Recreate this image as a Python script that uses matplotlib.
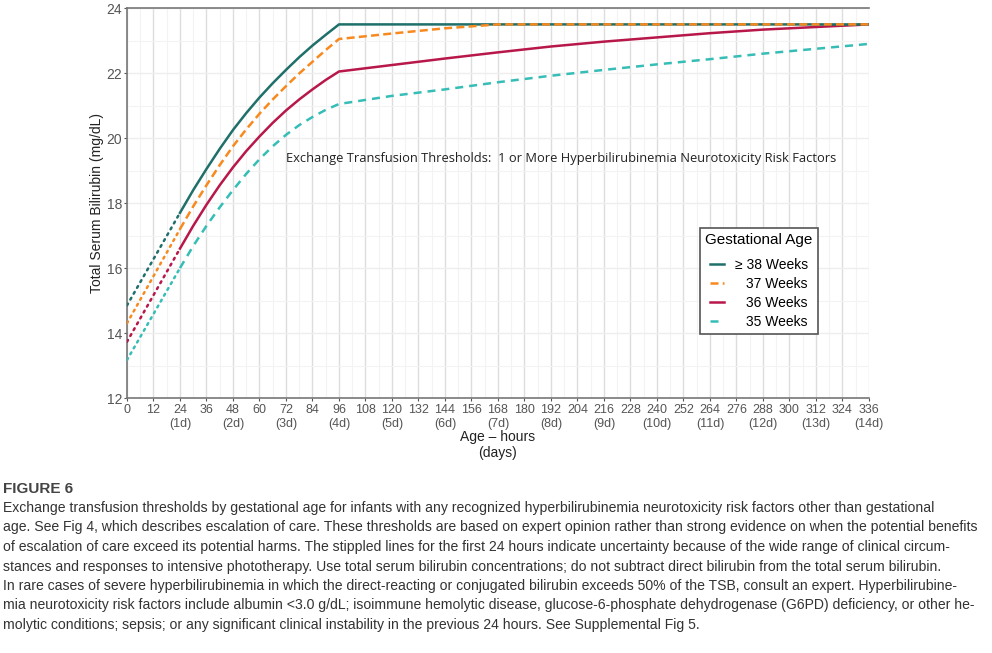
import numpy as np
import matplotlib
matplotlib.use('Agg')
from matplotlib import pyplot as plt

plt.rcParams['font.family'] = ['Liberation Sans', 'DejaVu Sans']

# data (hours, mg/dL)
hours_early = [0, 24]
hours = [24, 30, 36, 42, 48, 54, 60, 66, 72, 78, 84, 90, 96,
         120, 144, 168, 192, 216, 240, 264, 288, 312, 336]

ga38_early = [14.85, 17.7]
ga38 = [17.7, 18.4, 19.05, 19.67, 20.25, 20.77, 21.25, 21.69, 22.1, 22.49, 22.85, 23.18, 23.5,
        23.5, 23.5, 23.5, 23.5, 23.5, 23.5, 23.5, 23.5, 23.5, 23.5]
ga37_early = [14.3, 17.2]
ga37 = [17.2, 17.9, 18.55, 19.17, 19.75, 20.27, 20.75, 21.19, 21.6, 21.99, 22.35, 22.71, 23.05,
        23.22, 23.38, 23.5, 23.5, 23.5, 23.5, 23.5, 23.5, 23.5, 23.5]
ga36_early = [13.73, 16.6]
ga36 = [16.6, 17.3, 17.95, 18.55, 19.1, 19.6, 20.05, 20.47, 20.85, 21.19, 21.5, 21.79, 22.05,
        22.25, 22.45, 22.64, 22.82, 22.97, 23.1, 23.23, 23.34, 23.42, 23.5]
ga35_early = [13.17, 16.0]
ga35 = [16.0, 16.68, 17.3, 17.87, 18.4, 18.9, 19.35, 19.75, 20.1, 20.4, 20.65, 20.87, 21.05,
        21.3, 21.5, 21.72, 21.92, 22.1, 22.27, 22.43, 22.6, 22.75, 22.9]

labels = ['\u2265 38 Weeks', '\u2002 37 Weeks', '\u2002 36 Weeks', '\u2002 35 Weeks']
colors = ['#1f6f6a', '#f7891f', '#b8174a', '#35bdb6']
styles = ['-', (0, (3.2, 1.7)), '-', (0, (3.2, 2.4))]

x_ticks = list(range(0, 337, 12))
x_labels = [str(h) + ('\n(%dd)' % (h // 24) if h % 24 == 0 and h > 0 else '') for h in x_ticks]

caption_lines = [
    'Exchange transfusion thresholds by gestational age for infants with any recognized hyperbilirubinemia neurotoxicity risk factors other than gestational',
    'age. See Fig 4, which describes escalation of care. These thresholds are based on expert opinion rather than strong evidence on when the potential benefits',
    'of escalation of care exceed its potential harms. The stippled lines for the first 24 hours indicate uncertainty because of the wide range of clinical circum-',
    'stances and responses to intensive phototherapy. Use total serum bilirubin concentrations; do not subtract direct bilirubin from the total serum bilirubin.',
    'In rare cases of severe hyperbilirubinemia in which the direct-reacting or conjugated bilirubin exceeds 50% of the TSB, consult an expert. Hyperbilirubine-',
    'mia neurotoxicity risk factors include albumin <3.0 g/dL; isoimmune hemolytic disease, glucose-6-phosphate dehydrogenase (G6PD) deficiency, or other he-',
    'molytic conditions; sepsis; or any significant clinical instability in the previous 24 hours. See Supplemental Fig 5.',
]

fig = plt.figure(figsize=(9.92, 6.53), dpi=100)
ax = fig.add_axes([0.128, 0.3905, 0.748, 0.597])

early = [ga38_early, ga37_early, ga36_early, ga35_early]
late = [ga38, ga37, ga36, ga35]
# draw 35 first so 38 sits on top, as in the reference
for i in [3, 2, 1, 0]:
    ax.plot(hours_early, early[i], color=colors[i], lw=1.8, linestyle=(0, (0.8, 1.9)),
            dash_capstyle='round', zorder=3)
    ax.plot(hours, late[i], color=colors[i], lw=1.8, linestyle=styles[i], label=labels[i],
            zorder=3 + (1 if i == 1 else 0))

ax.set_xlim(0, 336)
ax.set_ylim(12, 24)
ax.set_xticks(x_ticks)
ax.set_xticklabels(x_labels, fontsize=9, color='#555555', linespacing=1.3)
ax.set_yticks(range(12, 25, 2))
ax.tick_params(axis='y', labelsize=10, colors='#555555', length=2.5, width=0.8, pad=1.0)
ax.tick_params(axis='x', colors='#555555', length=2.5, width=0.8, pad=1.5)
ax.set_xticks(range(0, 337, 6), minor=True)
ax.set_yticks(range(12, 25, 1), minor=True)
ax.tick_params(which='minor', length=0)
ax.grid(which='major', axis='x', color='#dddddd', lw=1.0, zorder=0)
ax.grid(which='major', axis='y', color='#eeeeee', lw=1.0, zorder=0)
ax.grid(which='minor', color='#f3f3f3', lw=0.8, zorder=0)
ax.set_axisbelow(True)
for s in ['left', 'bottom', 'top']:
    ax.spines[s].set_color('#777777')
    ax.spines[s].set_linewidth(1.2)
ax.spines['right'].set_visible(False)

ax.set_ylabel('Total Serum Bilirubin (mg/dL)', fontsize=10, color='#222222', labelpad=1.5)
ax.set_xlabel('Age \u2013 hours\n(days)', fontsize=10, color='#222222', labelpad=0)

ax.text(72, 19.38, 'Exchange Transfusion Thresholds:  1 or More Hyperbilirubinemia Neurotoxicity Risk Factors',
        fontsize=9.25, family=['Open Sans', 'DejaVu Sans'], color='#222222', va='center', ha='left')

handles, labs = ax.get_legend_handles_labels()
order = [labs.index(l) for l in labels]
leg = ax.legend([handles[k] for k in order], [labs[k] for k in order],
                title='Gestational Age', loc='upper left', bbox_to_anchor=(0.772, 0.437),
                fontsize=10, title_fontsize=11, handlelength=1.0, handletextpad=0.85,
                labelspacing=0.36, fancybox=False, framealpha=1, edgecolor='#555555',
                borderpad=0.4, borderaxespad=0)
leg.get_frame().set_linewidth(1.2)
leg._legend_box.sep = 7.5

fig.text(0.003, 1 - 489 / 653, 'FIGURE 6', fontsize=11, fontweight='bold',
         family=['Liberation Sans Narrow', 'Liberation Sans', 'DejaVu Sans'], color='#444444', va='center')
for k, line in enumerate(caption_lines):
    fig.text(0.003, 1 - (508 + k * 19.5) / 653, line, fontsize=10.05,
             family=['Liberation Sans Narrow', 'Liberation Sans', 'DejaVu Sans'], color='#333333', va='center')

fig.savefig('out.png', dpi=100)
